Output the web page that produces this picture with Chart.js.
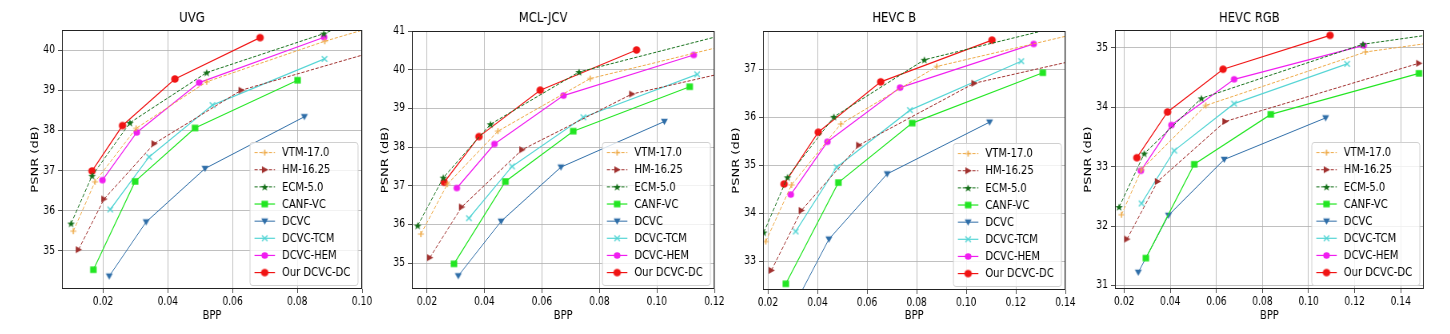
<!DOCTYPE html>
<html>
<head>
<meta charset="utf-8">
<script src="https://cdn.jsdelivr.net/npm/chart.js@4.4.1/dist/chart.umd.min.js"></script>
<style>
  body { margin: 0; background: #fff; }
  #wrap { position: relative; width: 1450px; height: 334px; overflow: hidden; }
  #wrap canvas { position: absolute; top: 0; transform-origin: 0 0; }
</style>
</head>
<body>
<div id="wrap"></div>
<script>
// legend names, same order in every panel
var seriesNames = ['VTM-17.0', 'HM-16.25', 'ECM-5.0', 'CANF-VC', 'DCVC', 'DCVC-TCM', 'DCVC-HEM', 'Our DCVC-DC'];

// UVG  [bpp, psnr]
var uvgVTM  = [[0.0108, 35.49], [0.0175, 36.72], [0.0302, 38.05], [0.0520, 39.21], [0.0885, 40.22], [0.112, 40.78]];
var uvgHM   = [[0.0124, 35.03], [0.0203, 36.29], [0.0358, 37.67], [0.0627, 39.00], [0.105, 39.99]];
var uvgECM  = [[0.0101, 35.68], [0.0166, 36.87], [0.0283, 38.19], [0.0520, 39.44], [0.0882, 40.41], [0.110, 41.10]];
var uvgCANF = [[0.0170, 34.53], [0.0299, 36.73], [0.0484, 38.06], [0.0801, 39.25]];
var uvgDCVC = [[0.0219, 34.37], [0.0333, 35.72], [0.0515, 37.05], [0.0822, 38.34]];
var uvgTCM  = [[0.0222, 36.03], [0.0342, 37.34], [0.0538, 38.63], [0.0884, 39.78]];
var uvgHEM  = [[0.0198, 36.76], [0.0304, 37.95], [0.0497, 39.19], [0.0883, 40.32]];
var uvgDC   = [[0.0166, 36.99], [0.0260, 38.12], [0.0422, 39.28], [0.0685, 40.31]];

// MCL-JCV
var mclVTM  = [[0.0179, 35.75], [0.0271, 37.04], [0.0447, 38.41], [0.0768, 39.77], [0.128, 40.70]];
var mclHM   = [[0.0210, 35.14], [0.0321, 36.45], [0.0531, 37.93], [0.0913, 39.37], [0.130, 40.03]];
var mclECM  = [[0.0168, 35.97], [0.0257, 37.21], [0.0421, 38.59], [0.0729, 39.94], [0.130, 41.03]];
var mclCANF = [[0.0294, 34.98], [0.0473, 37.11], [0.0709, 38.41], [0.1114, 39.56]];
var mclDCVC = [[0.0309, 34.67], [0.0458, 36.08], [0.0666, 37.48], [0.1026, 38.66]];
var mclTCM  = [[0.0346, 36.16], [0.0496, 37.50], [0.0744, 38.77], [0.1140, 39.88]];
var mclHEM  = [[0.0304, 36.94], [0.0435, 38.08], [0.0675, 39.33], [0.1128, 40.38]];
var mclDC   = [[0.0260, 37.09], [0.0381, 38.27], [0.0594, 39.47], [0.0929, 40.51]];

// HEVC B
var hevcbVTM  = [[0.0191, 33.41], [0.0295, 34.59], [0.0494, 35.86], [0.0881, 37.06], [0.150, 37.81]];
var hevcbHM   = [[0.0214, 32.81], [0.0335, 34.06], [0.0567, 35.42], [0.1032, 36.71], [0.150, 37.26]];
var hevcbECM  = [[0.0183, 33.60], [0.0279, 34.75], [0.0466, 36.01], [0.0831, 37.20], [0.140, 37.92]];
var hevcbCANF = [[0.0272, 32.53], [0.0484, 34.64], [0.0782, 35.88], [0.1309, 36.93]];
var hevcbDCVC = [[0.0300, 32.02], [0.0446, 33.46], [0.0681, 34.82], [0.1094, 35.90]];
var hevcbTCM  = [[0.0312, 33.62], [0.0477, 34.96], [0.0773, 36.15], [0.1222, 37.17]];
var hevcbHEM  = [[0.0292, 34.39], [0.0440, 35.49], [0.0733, 36.62], [0.1272, 37.53]];
var hevcbDC   = [[0.0265, 34.61], [0.0403, 35.69], [0.0655, 36.74], [0.1104, 37.61]];

// HEVC RGB
var rgbVTM  = [[0.0188, 32.19], [0.0275, 32.95], [0.0554, 34.03], [0.1247, 34.93], [0.160, 35.12]];
var rgbHM   = [[0.0212, 31.78], [0.0345, 32.75], [0.0638, 33.76], [0.1479, 34.74]];
var rgbECM  = [[0.0178, 32.32], [0.0287, 33.22], [0.0535, 34.15], [0.1236, 35.06], [0.160, 35.26]];
var rgbCANF = [[0.0294, 31.46], [0.0504, 33.04], [0.0836, 33.88], [0.1479, 34.57]];
var rgbDCVC = [[0.0261, 31.22], [0.0392, 32.18], [0.0634, 33.12], [0.1074, 33.82]];
var rgbTCM  = [[0.0275, 32.38], [0.0417, 33.27], [0.0677, 34.06], [0.1167, 34.73]];
var rgbHEM  = [[0.0272, 32.93], [0.0405, 33.70], [0.0677, 34.47], [0.1239, 35.04]];
var rgbDC   = [[0.0255, 33.15], [0.0388, 33.92], [0.0629, 34.64], [0.1093, 35.21]];

// tick labels
var uvgXTicks = [0.02, 0.04, 0.06, 0.08, 0.10];
var uvgYTicks = [35, 36, 37, 38, 39, 40];
var mclXTicks = [0.02, 0.04, 0.06, 0.08, 0.10, 0.12];
var mclYTicks = [35, 36, 37, 38, 39, 40, 41];
var hevcbXTicks = [0.02, 0.04, 0.06, 0.08, 0.10, 0.12, 0.14];
var hevcbYTicks = [33, 34, 35, 36, 37];
var rgbXTicks = [0.02, 0.04, 0.06, 0.08, 0.10, 0.12, 0.14];
var rgbYTicks = [31, 32, 33, 34, 35];

var FONT = 'DejaVu Sans';
var SX = 0.8;  // the source figure is squeezed sideways; draw wide, then scale x

// marker images, pre-stretched so they come out round after the squeeze
function makeMarker(kind, color, size) {
  var c = document.createElement('canvas');
  c.width = Math.ceil(size / SX) + 2;
  c.height = Math.ceil(size) + 2;
  var g = c.getContext('2d');
  var r = size / 2;
  g.translate(c.width / 2, c.height / 2);
  g.scale(1 / SX, 1);
  g.fillStyle = color;
  g.strokeStyle = color;
  g.lineWidth = 1.2;
  g.beginPath();
  if (kind === 'circle') {
    g.arc(0, 0, r, 0, Math.PI * 2);
    g.fill();
  } else if (kind === 'square') {
    g.fillRect(-r, -r, 2 * r, 2 * r);
  } else if (kind === 'down') {
    g.moveTo(0, r); g.lineTo(-r, -r * 0.8); g.lineTo(r, -r * 0.8); g.closePath(); g.fill();
  } else if (kind === 'right') {
    g.moveTo(r, 0); g.lineTo(-r * 0.8, -r); g.lineTo(-r * 0.8, r); g.closePath(); g.fill();
  } else if (kind === 'plus') {
    g.moveTo(-r, 0); g.lineTo(r, 0); g.moveTo(0, -r); g.lineTo(0, r); g.stroke();
  } else if (kind === 'x') {
    g.moveTo(-r, -r); g.lineTo(r, r); g.moveTo(-r, r); g.lineTo(r, -r); g.stroke();
  } else if (kind === 'star') {
    for (var k = 0; k < 10; k++) {
      var rr = (k % 2) ? r * 0.42 : r;
      var ang = -Math.PI / 2 + k * Math.PI / 5;
      g.lineTo(rr * Math.cos(ang), rr * Math.sin(ang) + 0.4);
    }
    g.closePath(); g.fill();
  }
  return c;
}

// line / marker look per series
var seriesStyles = [
  { color: '#eeaa48', dash: [4, 2], marker: 'plus',   size: 6,   lw: 1 },
  { color: '#a0302e', dash: [4, 2], marker: 'right',  size: 7,   lw: 1 },
  { color: '#15701a', dash: [4, 2], marker: 'star',   size: 8,   lw: 1 },
  { color: '#22e622', dash: [],     marker: 'square', size: 6.5, lw: 1.2 },
  { color: '#2f6ea8', dash: [],     marker: 'down',   size: 7,   lw: 1 },
  { color: '#55d5d5', dash: [],     marker: 'x',      size: 5.5, lw: 1.2 },
  { color: '#f01ef0', dash: [],     marker: 'circle', size: 6.5, lw: 1.2 },
  { color: '#f01414', dash: [],     marker: 'circle', size: 7.5, lw: 1.2 }
];
seriesStyles.forEach(function(st) { st.img = makeMarker(st.marker, st.color, st.size); });

var panels = [
  { title: 'UVG',     left: 62,   right: 362,  top: 30, bottom: 289, xmin: 0.0073, xmax: 0.10, ymin: 34.05, ymax: 40.5,
    xticks: uvgXTicks, yticks: uvgYTicks, series: [uvgVTM, uvgHM, uvgECM, uvgCANF, uvgDCVC, uvgTCM, uvgHEM, uvgDC] },
  { title: 'MCL-JCV', left: 412,  right: 714,  top: 31, bottom: 289, xmin: 0.0148, xmax: 0.12, ymin: 34.33, ymax: 41,
    xticks: mclXTicks, yticks: mclYTicks, series: [mclVTM, mclHM, mclECM, mclCANF, mclDCVC, mclTCM, mclHEM, mclDC] },
  { title: 'HEVC B',  left: 763,  right: 1065, top: 31, bottom: 290, xmin: 0.018, xmax: 0.14, ymin: 32.4, ymax: 37.8,
    xticks: hevcbXTicks, yticks: hevcbYTicks, series: [hevcbVTM, hevcbHM, hevcbECM, hevcbCANF, hevcbDCVC, hevcbTCM, hevcbHEM, hevcbDC] },
  { title: 'HEVC RGB', left: 1115, right: 1424, top: 30, bottom: 289, xmin: 0.016, xmax: 0.15, ymin: 30.94, ymax: 35.3,
    xticks: rgbXTicks, yticks: rgbYTicks, series: [rgbVTM, rgbHM, rgbECM, rgbCANF, rgbDCVC, rgbTCM, rgbHEM, rgbDC] }
];

// frame + matplotlib-like legend (line with marker in the middle)
var framePlugin = {
  id: 'frameLegend',
  afterDatasetsDraw: function(chart) {
    var ctx = chart.ctx, a = chart.chartArea;
    ctx.save();
    ctx.strokeStyle = '#222';
    ctx.lineWidth = 1;
    ctx.strokeRect(a.left + 0.5, Math.round(a.top) + 0.5, a.right - a.left - 1, Math.round(a.bottom - a.top) - 1);

    var w = 108 / SX, h = 143;
    var x0 = a.right - 4 / SX - w, y0 = a.bottom - 4 - h;
    ctx.beginPath();
    ctx.roundRect(x0, y0 + 0.5, w, h, 3);
    ctx.fillStyle = 'rgba(255,255,255,0.8)';
    ctx.fill();
    ctx.strokeStyle = '#d0d0d0';
    ctx.stroke();

    chart.data.datasets.forEach(function(ds, i) {
      var st = seriesStyles[i];
      var cy = y0 + 10.6 + i * 17.14;
      ctx.beginPath();
      ctx.setLineDash(st.dash);
      ctx.strokeStyle = st.color;
      ctx.lineWidth = st.lw;
      ctx.moveTo(x0 + 4.5 / SX, cy);
      ctx.lineTo(x0 + 25 / SX, cy);
      ctx.stroke();
      ctx.setLineDash([]);
      ctx.drawImage(st.img, x0 + 14.75 / SX - st.img.width / 2, cy - st.img.height / 2);
      ctx.fillStyle = '#000';
      ctx.font = '12.5px "' + FONT + '"';
      ctx.textBaseline = 'middle';
      ctx.textAlign = 'left';
      ctx.fillText(ds.label, x0 + 32 / SX, cy + 0.5);
    });
    ctx.restore();
  }
};

var wrap = document.getElementById('wrap');

panels.forEach(function(p) {
  var yw = 40, padR = 16;
  var cv = document.createElement('canvas');
  cv.width = Math.round(((p.right - p.left) + yw + padR) / SX);
  cv.height = 334;
  cv.style.left = (p.left - yw) + 'px';
  cv.style.transform = 'scaleX(' + SX + ')';
  wrap.appendChild(cv);

  var datasets = p.series.map(function(pts, i) {
    var st = seriesStyles[i];
    return {
      label: seriesNames[i],
      data: pts.map(function(d) { return { x: d[0], y: d[1] }; }),
      borderColor: st.color,
      backgroundColor: st.color,
      borderWidth: st.lw,
      borderDash: st.dash,
      pointStyle: st.img,
      pointRadius: 4,
      tension: 0
    };
  });

  new Chart(cv.getContext('2d'), {
    type: 'scatter',
    data: { datasets: datasets },
    options: {
      responsive: false,
      devicePixelRatio: 1,
      animation: false,
      events: [],
      showLine: true,
      layout: { padding: { left: 0, right: cv.width - Math.round(((p.right - p.left) + yw) / SX), top: 0, bottom: 0 } },
      plugins: {
        legend: { display: false },
        tooltip: { enabled: false },
        title: {
          display: true,
          text: p.title,
          color: '#000',
          font: { family: FONT, size: 14.5, weight: 'normal' },
          padding: { top: 10, bottom: p.top - 10 - 17.4 }
        }
      },
      scales: {
        x: {
          type: 'linear',
          min: p.xmin, max: p.xmax,
          afterBuildTicks: function(s) { s.ticks = p.xticks.map(function(v) { return { value: v }; }); },
          afterFit: function(s) { s.height = 334 - p.bottom; },
          grid: { color: '#b0b0b0', lineWidth: 0.8, tickColor: '#222', tickLength: 4, drawTicks: true },
          border: { display: false },
          ticks: {
            color: '#000', padding: 2, maxRotation: 0, autoSkip: false,
            font: { family: FONT, size: 11.5 },
            callback: function(v) { return v.toFixed(2); }
          },
          title: { display: true, text: 'BPP', color: '#000', font: { family: FONT, size: 12.5 }, padding: { top: 0, bottom: 10.5 } }
        },
        y: {
          type: 'linear',
          min: p.ymin, max: p.ymax,
          afterBuildTicks: function(s) { s.ticks = p.yticks.map(function(v) { return { value: v }; }); },
          afterFit: function(s) { s.width = yw / SX; },
          grid: { color: '#b0b0b0', lineWidth: 0.8, tickColor: '#222', tickLength: 4 / SX, drawTicks: true },
          border: { display: false },
          ticks: {
            color: '#000', padding: 3 / SX, autoSkip: false,
            font: { family: FONT, size: 11.5 },
            callback: function(v) { return String(v); }
          },
          title: { display: true, text: 'PSNR (dB)', color: '#000', font: { family: FONT, size: 13 }, padding: { top: 13 / SX - 7.8, bottom: 0 } }
        }
      }
    },
    plugins: [framePlugin]
  });
});
</script>
</body>
</html>
